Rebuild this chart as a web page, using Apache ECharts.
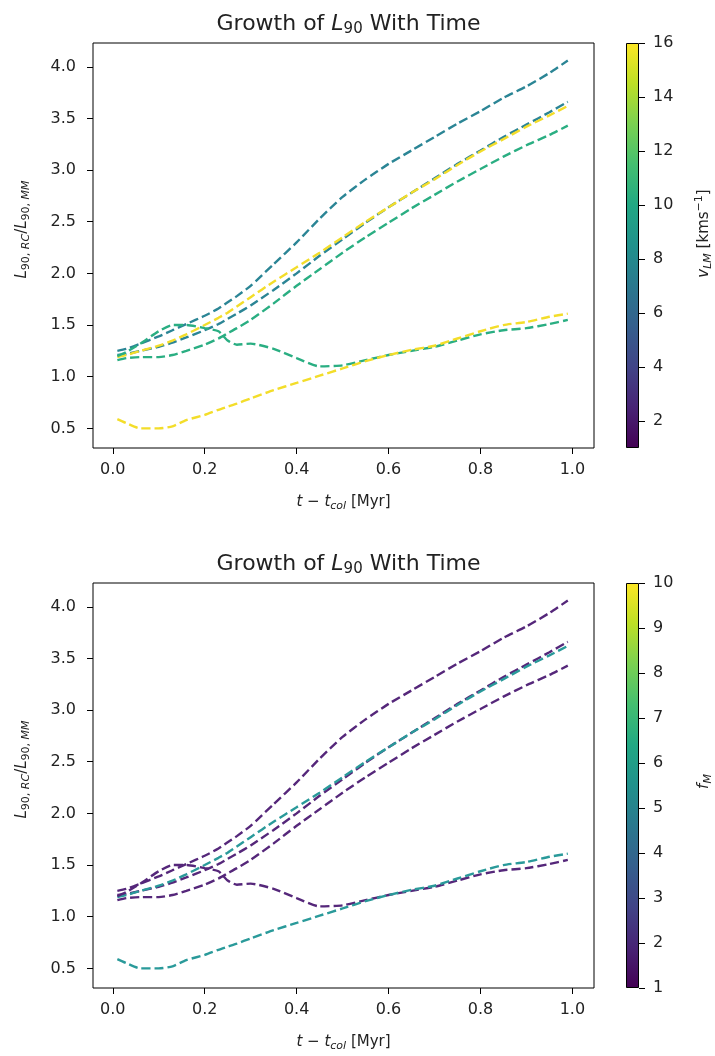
<!DOCTYPE html>
<html><head><meta charset="utf-8">
<script src="https://cdn.jsdelivr.net/npm/echarts@6/dist/echarts.min.js"></script>
<style>html,body{margin:0;padding:0;background:#fff}#c{width:715px;height:1056px}</style>
</head><body><div id="c"></div>
<script>
// ---- data ----
const time = [0.01, 0.03, 0.06, 0.1, 0.13, 0.16, 0.2, 0.23, 0.25, 0.27, 0.3, 0.35, 0.4, 0.45, 0.5, 0.55, 0.6, 0.65, 0.7, 0.75, 0.8, 0.85, 0.9, 0.95, 0.99];
const run1 = [1.25, 1.27, 1.32, 1.39, 1.45, 1.51, 1.59, 1.66, 1.72, 1.78, 1.88, 2.09, 2.30, 2.53, 2.74, 2.91, 3.06, 3.19, 3.32, 3.45, 3.57, 3.70, 3.81, 3.94, 4.06];
const run2 = [1.21, 1.22, 1.25, 1.29, 1.33, 1.38, 1.45, 1.51, 1.56, 1.61, 1.69, 1.84, 2.00, 2.17, 2.33, 2.49, 2.64, 2.78, 2.92, 3.06, 3.19, 3.32, 3.44, 3.56, 3.66];
const run3 = [1.19, 1.21, 1.25, 1.30, 1.35, 1.41, 1.50, 1.57, 1.62, 1.68, 1.77, 1.92, 2.06, 2.20, 2.35, 2.50, 2.64, 2.78, 2.91, 3.05, 3.18, 3.30, 3.42, 3.53, 3.62];
const run4 = [1.16, 1.18, 1.19, 1.19, 1.21, 1.25, 1.31, 1.37, 1.42, 1.47, 1.55, 1.71, 1.88, 2.04, 2.20, 2.35, 2.49, 2.63, 2.76, 2.89, 3.01, 3.13, 3.24, 3.34, 3.43];
const run5 = [1.20, 1.24, 1.32, 1.44, 1.50, 1.50, 1.47, 1.44, 1.35, 1.31, 1.32, 1.27, 1.18, 1.10, 1.11, 1.16, 1.21, 1.25, 1.29, 1.35, 1.41, 1.45, 1.47, 1.51, 1.55];
const run6 = [0.59, 0.55, 0.50, 0.50, 0.52, 0.58, 0.63, 0.68, 0.71, 0.74, 0.79, 0.87, 0.94, 1.01, 1.08, 1.15, 1.21, 1.26, 1.30, 1.37, 1.44, 1.50, 1.53, 1.58, 1.61];
const runs = [run1, run2, run3, run4, run5, run6];
const xTicks = [0.0, 0.2, 0.4, 0.6, 0.8, 1.0];
const yTicks = [0.5, 1.0, 1.5, 2.0, 2.5, 3.0, 3.5, 4.0];
const vTicks = [2, 4, 6, 8, 10, 12, 14, 16];
const fTicks = [1, 2, 3, 4, 5, 6, 7, 8, 9, 10];
const vRange = [1, 16];
const fRange = [1, 10];
// ---- style ----
const topColors = ['#2b8595', '#2b8595', '#f3dd2a', '#2aae82', '#2aae82', '#f3dd2a'];
const bottomColors = ['#55277a', '#55277a', '#2a9a9a', '#55277a', '#55277a', '#2a9a9a'];
const FONT = "'DejaVu Sans',sans-serif";
const TXT = '#222';
const viridis = ['#440154','#482475','#414487','#355f8d','#2a788e','#21918c','#22a884','#44bf70','#7ad151','#bddf26','#fde725'];

const chart = echarts.init(document.getElementById('c'));

const panels = [
  {top: 43, colors: topColors, range: vRange, ticks: vTicks,
   cbName: '{i|v}{si|LM}{n| [kms}{sup|−1}{n|]}', cbPad: 24},
  {top: 583, colors: bottomColors, range: fRange, ticks: fTicks,
   cbName: '{i|f}{si|M}', cbPad: 8}
];

const base = {fontFamily: FONT, color: TXT, fontWeight: 'normal'};
const mk = (fs, lh, extra) => Object.assign({}, base, {fontSize: fs, lineHeight: lh}, extra || {});
const rich = {
  n: mk(15, 20), i: mk(15, 20, {fontStyle: 'italic'}),
  s: mk(11, 13, {verticalAlign: 'bottom'}),
  si: mk(11, 13, {fontStyle: 'italic', verticalAlign: 'bottom'}),
  sup: mk(11, 13, {verticalAlign: 'top'})
};
const titleRich = {
  n: mk(22, 26), i: mk(22, 26, {fontStyle: 'italic'}),
  s: mk(15, 16, {verticalAlign: 'bottom'})
};

const gradStops = viridis.map((c, k) => ({offset: 1 - k / (viridis.length - 1), color: c}));

const option = {
  animation: false,
  backgroundColor: '#fff',
  title: [], grid: [], xAxis: [], yAxis: [], series: []
};

panels.forEach((p, pi) => {
  option.title.push({
    text: '{n|Growth of }{i|L}{s|90}{n| With Time}',
    left: 343.5, top: p.top - 37, textAlign: 'center',
    textStyle: {fontWeight: 'normal', rich: titleRich}
  });
  option.grid.push({left: 93, top: p.top, width: 501, height: 405, show: true,
    borderColor: '#000', borderWidth: 1, backgroundColor: 'transparent'});
  option.grid.push({left: 626, top: p.top, width: 18, height: 405, show: false});
  const gMain = pi * 2, gCb = pi * 2 + 1;
  option.xAxis.push({
    type: 'value', gridIndex: gMain, min: -0.043, max: 1.047, position: 'bottom',
    axisLine: {show: false, onZero: false}, splitLine: {show: false},
    axisTick: {show: true, length: 6, customValues: xTicks, lineStyle: {color: '#000'}},
    axisLabel: {customValues: xTicks, formatter: v => v.toFixed(1), margin: 14,
      fontFamily: FONT, fontSize: 16, color: TXT},
    name: '{i|t}{n| − }{i|t}{si|col}{n| [Myr]}', nameLocation: 'middle', nameGap: 44,
    nameTextStyle: {rich: rich}
  });
  option.yAxis.push({
    type: 'value', gridIndex: gMain, min: 0.31, max: 4.23, position: 'left',
    axisLine: {show: false, onZero: false}, splitLine: {show: false},
    axisTick: {show: true, length: 6, customValues: yTicks, lineStyle: {color: '#000'}},
    axisLabel: {customValues: yTicks, formatter: v => v.toFixed(1), margin: 17,
      fontFamily: FONT, fontSize: 16, color: TXT},
    name: '{i|L}{s|90, }{si|RC}{n|/}{i|L}{s|90, }{si|MM}', nameLocation: 'middle', nameRotate: 90, nameGap: 61,
    nameTextStyle: {rich: rich, padding: [0, 0, 0, 32]}
  });
  option.xAxis.push({type: 'category', gridIndex: gCb, data: ['cb'], show: false});
  option.yAxis.push({
    type: 'value', gridIndex: gCb, position: 'right', min: p.range[0], max: p.range[1],
    axisLine: {show: false, onZero: false}, splitLine: {show: false},
    axisTick: {show: true, length: 6, customValues: p.ticks, lineStyle: {color: '#000'}},
    axisLabel: {customValues: p.ticks, margin: 14, fontFamily: FONT, fontSize: 16, color: TXT},
    name: p.cbName, nameLocation: 'middle', nameRotate: 90, nameGap: 55,
    nameTextStyle: {rich: rich, padding: [0, 0, 0, p.cbPad]}
  });
  runs.forEach((r, k) => {
    option.series.push({
      type: 'line', xAxisIndex: gMain, yAxisIndex: gMain,
      data: time.map((t, j) => [t, r[j]]),
      showSymbol: false, smooth: 0.2,
      lineStyle: {color: p.colors[k], width: 2.4, type: [9, 4]},
      z: 3
    });
  });
  option.series.push({
    type: 'bar', xAxisIndex: gCb, yAxisIndex: gCb, stack: 'cb' + pi,
    data: [p.range[0]], barWidth: '100%', itemStyle: {color: 'transparent'}, silent: true
  });
  option.series.push({
    type: 'bar', xAxisIndex: gCb, yAxisIndex: gCb, stack: 'cb' + pi,
    data: [p.range[1] - p.range[0]], barWidth: '100%', silent: true,
    itemStyle: {color: new echarts.graphic.LinearGradient(0, 0, 0, 1, gradStops),
      borderColor: '#000', borderWidth: 1}
  });
});

chart.setOption(option);
</script>
</body></html>
